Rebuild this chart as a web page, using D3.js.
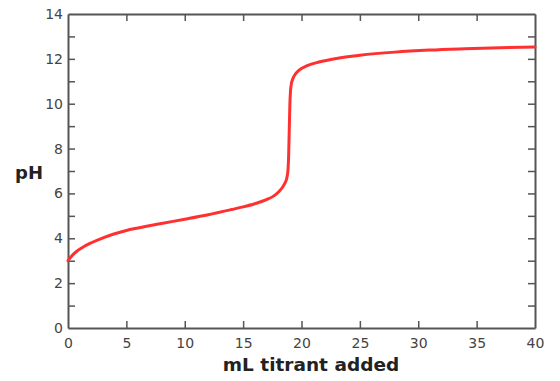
<!DOCTYPE html>
<html>
<head>
<meta charset="utf-8">
<script src="https://cdn.jsdelivr.net/npm/d3@7"></script>
<style>
html,body{margin:0;padding:0;background:#fff;}
svg{display:block;}
</style>
</head>
<body>
<svg id="chart" width="560" height="381"></svg>
<script>
const volumes = [0, 0.3, 0.7, 1.2, 2, 3, 4, 5, 6, 8, 10, 12, 14, 15, 16, 17, 17.6, 18.1, 18.5, 18.75, 18.85, 18.9, 18.95, 19.0, 19.05, 19.12, 19.25, 19.45, 19.8, 20.5, 21.5, 23, 25, 28, 31, 34, 37, 40];
const phValues = [3.0, 3.2, 3.4, 3.58, 3.8, 4.02, 4.2, 4.35, 4.46, 4.66, 4.85, 5.05, 5.28, 5.4, 5.54, 5.72, 5.88, 6.1, 6.38, 6.7, 7.1, 7.7, 8.8, 9.9, 10.5, 10.85, 11.1, 11.3, 11.5, 11.7, 11.86, 12.02, 12.16, 12.3, 12.39, 12.45, 12.5, 12.53];
const xTicks = [0, 5, 10, 15, 20, 25, 30, 35, 40];
const yLabelTicks = [0, 2, 4, 6, 8, 10, 12, 14];
const yAllTicks = d3.range(0, 15, 1);
const xTitle = "mL titrant added";
const yTitle = "pH";

const svg = d3.select("#chart");
const pLeft = 68, pRight = 535, pTop = 14, pBottom = 328;
const x = d3.scaleLinear().domain([0, 40]).range([pLeft, pRight]);
const y = d3.scaleLinear().domain([0, 14]).range([pBottom, pTop]);

const axisColor = "#555";
const tickLen = 7;
const font = "'DejaVu Sans', Verdana, sans-serif";

function styleAxis(g) {
  g.select(".domain").attr("stroke", axisColor).attr("stroke-width", 2);
  g.selectAll(".tick line").attr("stroke", axisColor).attr("stroke-width", 1.5);
  g.selectAll(".tick text").attr("fill", "#444").style("font-family", font).style("font-size", "14px");
}

// bottom axis (ticks inward)
const gb = svg.append("g").attr("transform", `translate(0,${pBottom})`)
  .call(d3.axisBottom(x).tickValues(xTicks).tickSizeInner(-tickLen).tickSizeOuter(0).tickPadding(10));
styleAxis(gb);
gb.selectAll(".tick line").filter(d => d === 0 || d === 40).remove();

// top axis (ticks inward, no labels)
const gt = svg.append("g").attr("transform", `translate(0,${pTop})`)
  .call(d3.axisTop(x).tickValues(xTicks).tickSizeInner(-tickLen).tickSizeOuter(0).tickFormat(""));
styleAxis(gt);
gt.selectAll(".tick line").filter(d => d === 0 || d === 40).remove();

// left axis (ticks inward, labels on even values)
const gl = svg.append("g").attr("transform", `translate(${pLeft},0)`)
  .call(d3.axisLeft(y).tickValues(yAllTicks).tickSizeInner(-tickLen).tickSizeOuter(0).tickPadding(5)
    .tickFormat(d => yLabelTicks.includes(d) ? d : ""));
styleAxis(gl);
gl.selectAll(".tick text").attr("x", -5);
gl.selectAll(".tick line").filter(d => d === 0 || d === 14).remove();

// right axis (ticks inward, no labels)
const gr = svg.append("g").attr("transform", `translate(${pRight},0)`)
  .call(d3.axisRight(y).tickValues(yAllTicks).tickSizeInner(-tickLen).tickSizeOuter(0).tickFormat(""));
styleAxis(gr);
gr.selectAll(".tick line").filter(d => d === 0 || d === 14).remove();

// curve
const data = volumes.map((v, i) => ({v, ph: phValues[i]}));
svg.append("path")
  .datum(data)
  .attr("fill", "none")
  .attr("stroke", "#ff3030")
  .attr("stroke-width", 3)
  .attr("stroke-linejoin", "round")
  .attr("stroke-linecap", "round")
  .attr("d", d3.line().x(d => x(d.v)).y(d => y(d.ph)).curve(d3.curveMonotoneX));

// titles
svg.append("text")
  .attr("x", 311).attr("y", 371)
  .attr("text-anchor", "middle")
  .attr("fill", "#222")
  .style("font-family", font).style("font-weight", "bold").style("font-size", "18.5px")
  .text(xTitle);

svg.append("text")
  .attr("x", 15).attr("y", 179)
  .attr("fill", "#222")
  .style("font-family", font).style("font-weight", "bold").style("font-size", "18px")
  .text(yTitle);
</script>
</body>
</html>
